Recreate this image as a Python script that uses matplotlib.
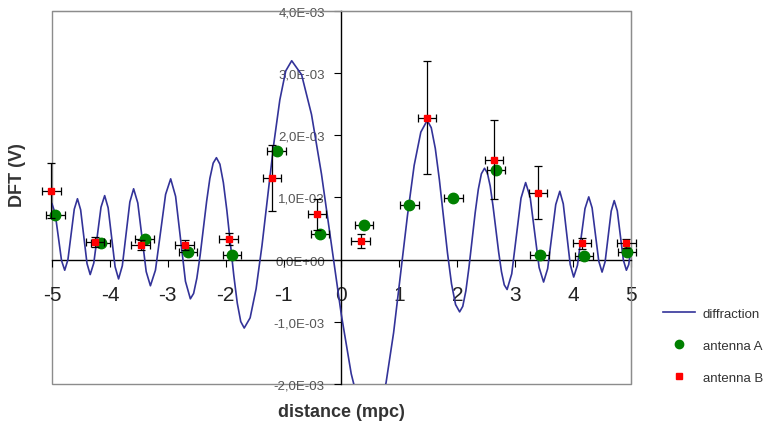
"""
Diffraction pattern vs. measured DFT amplitude of two antennas
"""
import matplotlib
matplotlib.use("Agg")
import matplotlib.pyplot as plt
from matplotlib.lines import Line2D
from matplotlib.patches import Rectangle
import numpy as np

plt.rcParams['font.family'] = ['Liberation Sans', 'DejaVu Sans']

# theoretical curve (units of 1E-03 V)
curve_x = [
    -5.00, -4.945, -4.89, -4.835,
    -4.78, -4.725, -4.67, -4.615,
    -4.56, -4.505, -4.45, -4.395,
    -4.34, -4.278, -4.215, -4.153,
    -4.09, -4.03, -3.97, -3.91,
    -3.85, -3.785, -3.72, -3.655,
    -3.59, -3.518, -3.445, -3.373,
    -3.30, -3.213, -3.125, -3.038,
    -2.95, -2.865, -2.78, -2.695,
    -2.61, -2.554, -2.498, -2.441, -2.385, -2.329, -2.273, -2.216,
    -2.16, -2.10, -2.04, -1.98, -1.92, -1.86, -1.80, -1.74,
    -1.68, -1.578, -1.475, -1.373, -1.27, -1.168, -1.065, -0.963,
    -0.86, -0.689, -0.518, -0.346, -0.175, -0.004, 0.168, 0.339,
    0.51, 0.64, 0.77, 0.90, 1.02, 1.14, 1.255, 1.37,
    1.48, 1.55, 1.62, 1.69, 1.76, 1.83, 1.90, 1.97,
    2.04, 2.094, 2.148, 2.201, 2.255, 2.309, 2.363, 2.416,
    2.47, 2.519, 2.568, 2.616, 2.665, 2.714, 2.763, 2.811,
    2.86, 2.94, 3.02, 3.10,
    3.18, 3.258, 3.335, 3.413,
    3.49, 3.56, 3.63, 3.70,
    3.77, 3.83, 3.89, 3.95,
    4.01, 4.075, 4.14, 4.205,
    4.27, 4.328, 4.385, 4.443,
    4.50, 4.553, 4.605, 4.658,
    4.71, 4.763, 4.815, 4.868,
    4.92, 4.96, 5.00,
]
curve_y = [
    0.90, 0.744, 0.365, -0.014,
    -0.17, -0.002, 0.405, 0.812,
    0.98, 0.802, 0.37, -0.062,
    -0.24, -0.055, 0.395, 0.845,
    1.03, 0.834, 0.36, -0.114,
    -0.31, -0.098, 0.415, 0.928,
    1.14, 0.912, 0.36, -0.192,
    -0.42, -0.169, 0.44, 1.049,
    1.30, 1.018, 0.335, -0.348,
    -0.63, -0.544, -0.298, 0.071, 0.505, 0.939, 1.308, 1.553,
    1.64, 1.536, 1.239, 0.794, 0.27, -0.254, -0.699, -0.996,
    -1.10, -0.936, -0.470, 0.227, 1.05, 1.873, 2.570, 3.036,
    3.20, 2.975, 2.336, 1.379, 0.25, -0.879, -1.836, -2.475,
    -2.70, -2.512, -1.977, -1.175, -0.23, 0.715, 1.517, 2.052,
    2.24, 2.123, 1.789, 1.289, 0.70, 0.111, -0.389, -0.723,
    -0.84, -0.752, -0.502, -0.127, 0.315, 0.757, 1.132, 1.382,
    1.47, 1.396, 1.185, 0.868, 0.495, 0.122, -0.195, -0.406,
    -0.48, -0.228, 0.38, 0.988,
    1.24, 1.006, 0.44, -0.126,
    -0.36, -0.146, 0.37, 0.886,
    1.10, 0.898, 0.41, -0.078,
    -0.28, -0.091, 0.365, 0.821,
    1.01, 0.833, 0.405, -0.023,
    -0.20, -0.032, 0.375, 0.782,
    0.95, 0.786, 0.39, -0.006,
    -0.17, -0.08, 0.18,
]

# antenna A (green)
a_x = [-4.94, -4.16, -3.40, -2.65, -1.89, -1.12, -0.37, 0.385, 1.17, 1.93, 2.67, 3.42, 4.19, 4.93]
a_y = [0.72, 0.26, 0.33, 0.13, 0.07, 1.75, 0.42, 0.55, 0.88, 0.99, 1.44, 0.08, 0.06, 0.12]

# antenna B (red)
b_x = [-5.01, -4.26, -3.47, -2.71, -1.95, -1.20, -0.42, 0.33, 1.48, 2.63, 3.39, 4.15, 4.92]
b_y = [1.11, 0.28, 0.23, 0.23, 0.33, 1.32, 0.73, 0.30, 2.28, 1.61, 1.08, 0.26, 0.26]
b_err = [0.44, 0.08, 0.08, 0.08, 0.10, 0.53, 0.25, 0.11, 0.91, 0.63, 0.42, 0.09, 0.08]

x_err = 0.16

x_ticks = [-5, -4, -3, -2, -1, 0, 1, 2, 3, 4, 5]
y_ticks = [-2e-3, -1e-3, 0, 1e-3, 2e-3, 3e-3, 4e-3]
y_labels = ['-2,0E-03', '-1,0E-03', '0,0E+00', '1,0E-03', '2,0E-03', '3,0E-03', '4,0E-03']

scale = 1e-3

fig = plt.figure(figsize=(7.7, 4.27), dpi=100)
ax = fig.add_axes([0.0675, 0.0984, 0.752, 0.8735])

ax.plot(curve_x, np.array(curve_y) * scale, color='#333399', lw=1.2,
        solid_joinstyle='round', zorder=3)

cont_a = ax.errorbar(a_x, np.array(a_y) * scale, xerr=x_err, fmt='o', color='#008000',
                     ms=7.5, ecolor='black', elinewidth=0.9, capsize=3, capthick=0.9,
                     zorder=4)
cont_b = ax.errorbar(b_x, np.array(b_y) * scale, xerr=x_err, yerr=np.array(b_err) * scale,
                     fmt='s', color='#ff0000', ms=5, ecolor='black', elinewidth=0.9,
                     capsize=3, capthick=0.9, zorder=5)
# points near the edges sit on the frame, as in Excel
for cont in (cont_a, cont_b):
    for art in cont.get_children():
        art.set_clip_on(False)

ax.set_xlim(-5, 5)
ax.set_ylim(-2e-3, 4e-3)

# axes crossing at the origin, grey frame around the plot area
ax.spines['left'].set_position(('data', 0))
ax.spines['bottom'].set_position(('data', 0))
for side in ['left', 'bottom']:
    ax.spines[side].set_color('black')
    ax.spines[side].set_linewidth(1.0)
for side in ['top', 'right']:
    ax.spines[side].set_color('#8c8c8c')
ax.add_patch(Rectangle((0, 0), 1, 1, transform=ax.transAxes, fill=False,
                       ec='#8c8c8c', lw=1.0, clip_on=False, zorder=1))

ax.set_xticks(x_ticks)
ax.set_xticklabels([str(t) for t in x_ticks])
ax.set_yticks(y_ticks)
ax.set_yticklabels(y_labels)
ax.tick_params(axis='x', direction='out', length=5, pad=13, labelsize=15,
               labelcolor='#222222')
ax.tick_params(axis='y', direction='out', length=5, pad=7, labelsize=9.5,
               labelcolor='#555555')

fig.text(0.023, 0.59, 'DFT (V)', rotation=90, ha='center', va='center',
         fontsize=13, fontweight='bold', color='#333333')
fig.text(0.443, 0.035, 'distance (mpc)', ha='center', va='center',
         fontsize=13, fontweight='bold', color='#333333')

handles = [
    Line2D([], [], color='#333399', lw=1.2),
    Line2D([], [], ls='none', marker='o', color='#008000', ms=6),
    Line2D([], [], ls='none', marker='s', color='#ff0000', ms=4.5),
]
fig.legend(handles, ['diffraction', 'antenna A', 'antenna B'], loc='center left',
           bbox_to_anchor=(0.861, 0.1885), frameon=False, fontsize=9.5,
           handlelength=2.45, handletextpad=0.55, labelspacing=1.5,
           borderpad=0, borderaxespad=0, labelcolor='#333333')

fig.savefig('out.png', dpi=100)
